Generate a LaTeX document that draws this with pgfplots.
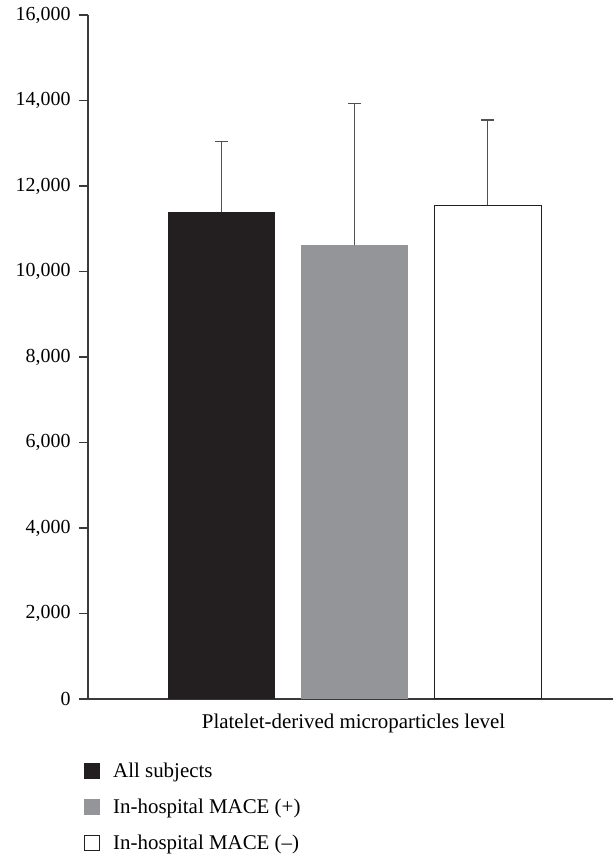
\documentclass[border=0pt]{standalone}
\usepackage{pgfplots}
\pgfplotsset{compat=1.18}
\usepackage{fontspec}
\setmainfont{Liberation Serif}
\definecolor{barblack}{HTML}{231F20}
\definecolor{bargray}{HTML}{939598}
\definecolor{axisgray}{HTML}{3A3A3A}
\definecolor{errgray}{HTML}{505050}
\begin{document}
\begin{tikzpicture}[x=1bp,y=1bp]
\path[use as bounding box] (0,0) rectangle (613,854);
\begin{axis}[
  at={(88bp,155bp)}, anchor=south west,
  scale only axis, width=525bp, height=684bp,
  xmin=0, xmax=3.94, ymin=0, ymax=16000,
  axis x line*=bottom, axis y line*=left,
  xtick=\empty, ytick={0,2000,...,16000},
  tick align=outside, major tick length=9bp,
  scaled y ticks=false,
  yticklabel style={/pgf/number format/1000 sep={,}, /pgf/number format/assume math mode=true, font=\fontsize{20}{24}\selectfont, xshift=-5bp},
  xlabel={Platelet-derived microparticles level},
  xlabel style={font=\fontsize{21}{25}\selectfont, yshift=-2bp, xshift=3bp},
  axis line style={axisgray, line width=1.2bp},
  tick style={axisgray, line width=1.2bp},
  ybar, bar width=107bp, bar shift=0pt,
  error bars/y dir=plus, error bars/y explicit,
  error bars/error bar style={line width=1.4bp, color=errgray},
  error bars/error mark options={rotate=90, mark size=6.5bp, line width=1.4bp, color=errgray},
  legend style={at={(0,0)}, anchor=north west, xshift=-6bp, yshift=-60bp, draw=none, fill=none,
    row sep=16bp, font=\fontsize{21}{25}\selectfont, inner sep=2bp,
    nodes={inner xsep=6bp},
    /tikz/every odd column/.append style={column sep=7bp}},
  legend cell align=left,
]
\addplot[fill=barblack, draw=none, legend image code/.code={\fill[barblack] (0bp,-8bp) rectangle (16bp,8bp);}] coordinates {(1,11392) +- (0,1644)};
\addlegendentry{All subjects}
\addplot[fill=bargray, draw=none, legend image code/.code={\fill[bargray] (0bp,-8bp) rectangle (16bp,8bp);}] coordinates {(2,10613) +- (0,3312)};
\addlegendentry{In-hospital MACE (+)}
\addplot[fill=white, draw=barblack, line width=1.3bp, legend image code/.code={\draw[barblack, line width=1.3bp, fill=white] (0.65bp,-7.35bp) rectangle (15.35bp,7.35bp);}] coordinates {(3,11548) +- (0,1996)};
\addlegendentry{In-hospital MACE (--)}
\end{axis}
\end{tikzpicture}
\end{document}
